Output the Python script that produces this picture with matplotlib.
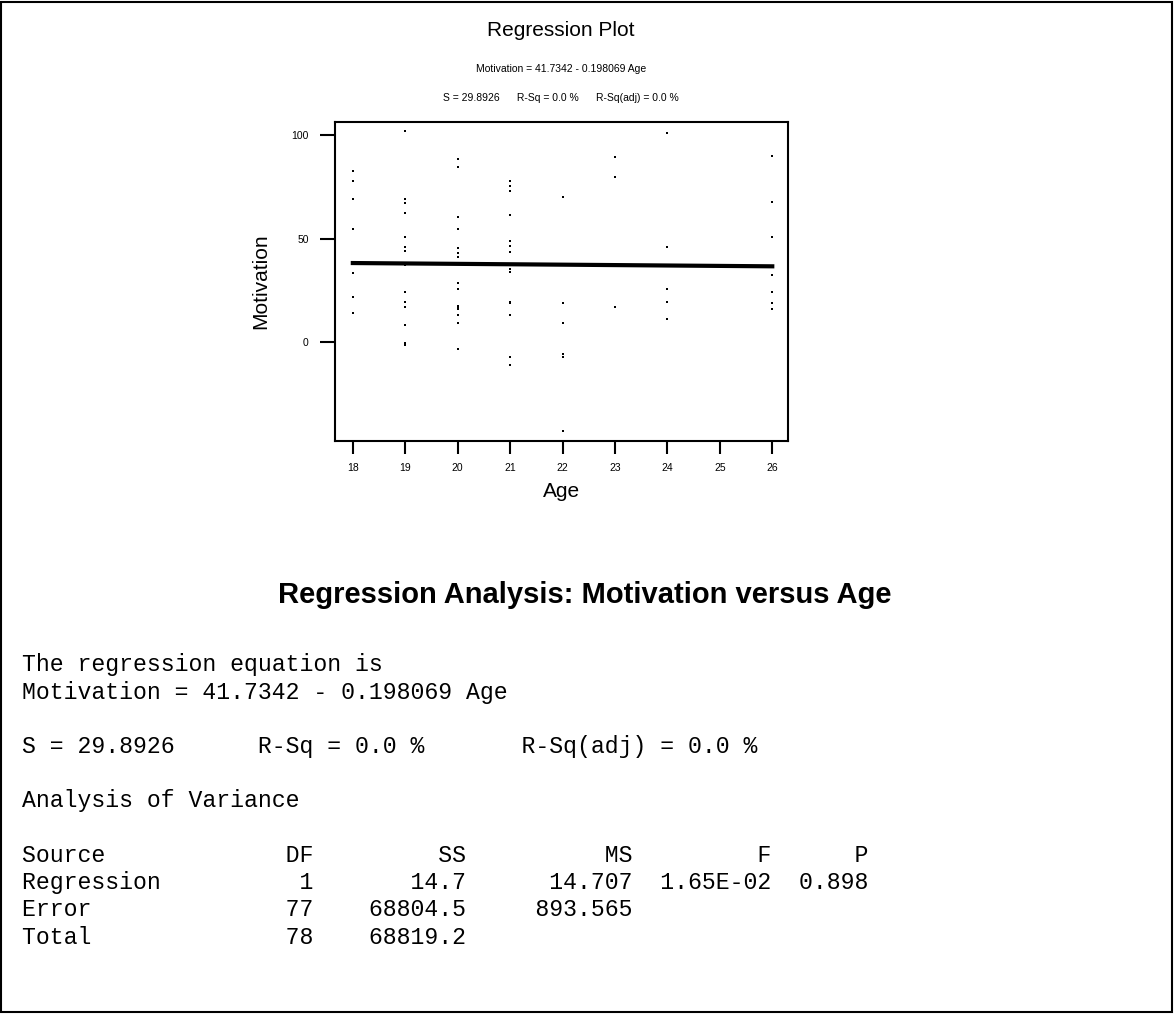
import matplotlib
matplotlib.use("Agg")
import matplotlib.pyplot as plt
from matplotlib.patches import Rectangle

W, H = 1174, 1014

# scatter values, one list per age
age_levels = [18, 19, 20, 21, 22, 23, 24, 26]
mot_18 = [82.6, 77.8, 68.9, 54.4, 33.2, 21.6, 13.9]
mot_19 = [101.9, 68.9, 67.0, 62.2, 50.6, 46.0, 44.0, 37.2, 24.3, 19.5, 16.8, 8.1, -0.6, -1.6]
mot_20 = [88.3, 84.4, 60.2, 54.4, 45.6, 42.8, 40.9, 28.4, 25.5, 17.5, 16.6, 15.8, 13.0, 9.0, -3.5]
mot_21 = [77.8, 75.4, 72.9, 61.4, 48.8, 46.4, 43.6, 35.1, 34.0, 19.5, 18.7, 13.0, -7.4, -11.3]
mot_22 = [69.9, 18.7, 9.0, -5.8, -7.1, -43.0]
mot_23 = [89.2, 79.6, 16.8]
mot_24 = [100.8, 45.7, 25.5, 19.5, 11.0]
mot_26 = [90.0, 67.8, 50.6, 32.4, 24.3, 18.7, 15.8]

intercept = 41.7342
slope = -0.198069
s_value = 29.8926
r_sq = 0.0
r_sq_adj = 0.0

x_ticks = [18, 19, 20, 21, 22, 23, 24, 25, 26]
y_ticks = [0, 50, 100]

# analysis of variance table
sources = ["Regression", "Error", "Total"]
dfs = [1, 77, 78]
ss = ["14.7", "68804.5", "68819.2"]
ms = ["14.707", "893.565", ""]
f_vals = ["1.65E-02", "", ""]
p_vals = ["0.898", "", ""]

SANS = "Liberation Sans"
MONO = "Liberation Mono"


def fx(px):
    return px / W


def fy(py):
    return 1 - py / H


fig = plt.figure(figsize=(W / 100, H / 100), dpi=100)
fig.patch.set_facecolor("white")

# outer frame
fig.add_artist(Rectangle((fx(1), fy(1012)), fx(1171), 1010 / H, transform=fig.transFigure,
                         fill=False, edgecolor="black", linewidth=1.5))

# ---- regression plot ----
ax = fig.add_axes([fx(335), fy(441), fx(788) - fx(335), fy(122) - fy(441)])
ages = []
motivation = []
for age, vals in zip(age_levels, [mot_18, mot_19, mot_20, mot_21, mot_22, mot_23, mot_24, mot_26]):
    ages += [age] * len(vals)
    motivation += vals
ax.scatter(ages, motivation, s=1.2, marker="s", color="black", linewidths=0)

line_x = [18, 26]
line_y = [intercept + slope * a for a in line_x]
ax.plot(line_x, line_y, color="black", linewidth=3)

ax.set_xlim(17.66, 26.3)
ax.set_ylim(-47.8, 106.3)
ax.set_xticks(x_ticks)
ax.set_yticks(y_ticks)
for sp in ax.spines.values():
    sp.set_linewidth(1.5)
ax.tick_params(axis="x", length=9, width=1.5, pad=7, labelsize=7.5)
ax.tick_params(axis="y", length=10.5, width=1.5, pad=8.5, labelsize=7.5)
for lab in ax.get_xticklabels() + ax.get_yticklabels():
    lab.set_family(SANS)
ax.set_xlabel("Age", fontsize=15, family=SANS, labelpad=6)
ax.set_ylabel("Motivation", fontsize=15, family=SANS, labelpad=15)

fig.text(fx(561), fy(31), "Regression Plot", ha="center", va="center", fontsize=15, family=SANS)
fig.text(fx(561), fy(69), f"Motivation = {intercept} - {slope * -1} Age",
         ha="center", va="center", fontsize=7.5, family=SANS)
fig.text(fx(561), fy(98), f"S = {s_value}      R-Sq = {r_sq:.1f} %      R-Sq(adj) = {r_sq_adj:.1f} %",
         ha="center", va="center", fontsize=7.5, family=SANS)

# ---- session output ----
fig.text(fx(585), fy(595), "Regression Analysis: Motivation versus Age", ha="center", va="center",
         fontsize=21, fontweight="bold", family=SANS)

lines = [
    "The regression equation is",
    f"Motivation = {intercept} - {slope * -1} Age",
    "",
    f"{'S = ' + str(s_value):<17}{'R-Sq = %.1f %%' % r_sq:<19}R-Sq(adj) = {r_sq_adj:.1f} %",
    "",
    "Analysis of Variance",
    "",
    f"{'Source':<18}{'DF':>3}{'SS':>11}{'MS':>12}{'F':>10}{'P':>7}",
]
for src, d, s, m, f, p in zip(sources, dfs, ss, ms, f_vals, p_vals):
    lines.append(f"{src:<18}{d:>3}{s:>11}{m:>12}{f:>10}{p:>7}".rstrip())

for i, txt in enumerate(lines):
    fig.text(fx(22), fy(665 + i * 27.2), txt, ha="left", va="center", fontsize=16.7, family=MONO)

fig.savefig("out.png", dpi=100)
